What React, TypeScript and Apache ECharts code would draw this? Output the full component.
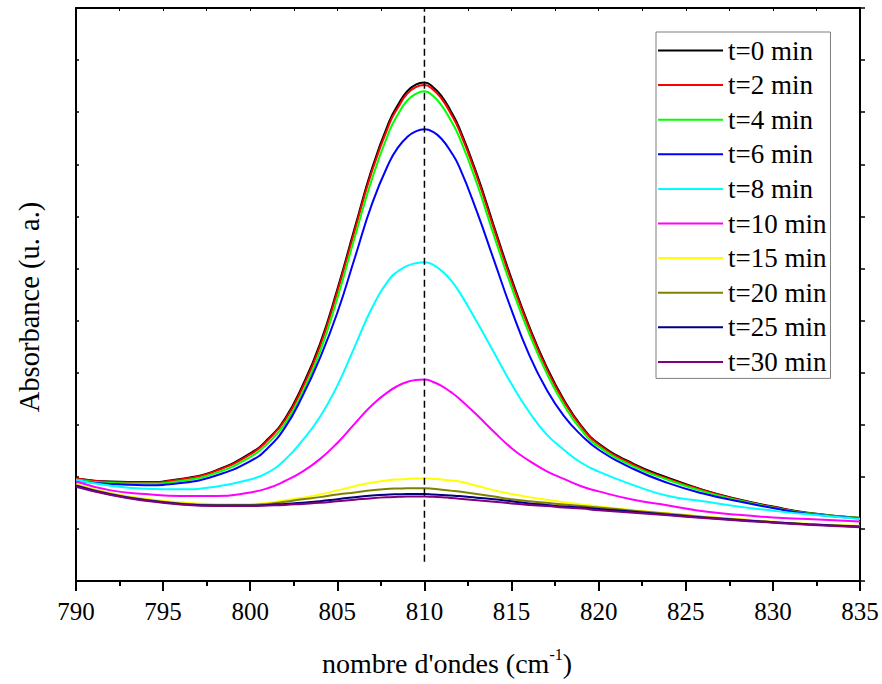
import React, { useEffect, useRef } from "react";
import * as echarts from "echarts";

const wavenumbers = [790, 792, 794, 796, 798, 800, 801, 802, 803, 804, 805, 806, 807, 808, 808.5, 809, 809.5, 810, 810.5, 811, 811.5, 812, 813, 814, 815, 816, 817, 818, 819, 820, 822, 824, 826, 828, 830, 832, 835];

const t0 = [1.97, 1.91, 1.90, 1.96, 2.12, 2.45, 2.72, 3.12, 3.75, 4.55, 5.60, 6.78, 7.93, 8.84, 9.15, 9.40, 9.53, 9.57, 9.48, 9.30, 9.03, 8.70, 7.82, 6.80, 5.80, 4.90, 4.12, 3.48, 2.98, 2.64, 2.25, 1.98, 1.75, 1.57, 1.43, 1.31, 1.21];
const t2 = [1.97, 1.90, 1.89, 1.95, 2.11, 2.43, 2.70, 3.09, 3.71, 4.50, 5.55, 6.73, 7.88, 8.79, 9.10, 9.35, 9.48, 9.52, 9.43, 9.25, 8.98, 8.65, 7.77, 6.75, 5.75, 4.86, 4.08, 3.45, 2.96, 2.62, 2.23, 1.96, 1.74, 1.56, 1.42, 1.30, 1.21];
const t4 = [1.95, 1.88, 1.87, 1.92, 2.07, 2.38, 2.64, 3.02, 3.62, 4.40, 5.43, 6.60, 7.73, 8.65, 8.97, 9.22, 9.35, 9.40, 9.31, 9.12, 8.85, 8.52, 7.64, 6.62, 5.64, 4.76, 4.00, 3.38, 2.90, 2.58, 2.20, 1.94, 1.72, 1.55, 1.41, 1.30, 1.21];
const t6 = [1.93, 1.86, 1.84, 1.88, 2.02, 2.30, 2.55, 2.95, 3.55, 4.28, 5.15, 6.20, 7.25, 8.05, 8.33, 8.52, 8.63, 8.67, 8.62, 8.48, 8.25, 7.95, 7.10, 6.15, 5.20, 4.35, 3.68, 3.17, 2.80, 2.52, 2.15, 1.88, 1.68, 1.53, 1.40, 1.29, 1.20];
const t8 = [1.94, 1.83, 1.77, 1.76, 1.81, 1.95, 2.08, 2.33, 2.70, 3.15, 3.75, 4.50, 5.25, 5.80, 5.95, 6.05, 6.10, 6.12, 6.07, 5.95, 5.78, 5.55, 4.98, 4.38, 3.78, 3.25, 2.82, 2.52, 2.27, 2.10, 1.84, 1.63, 1.53, 1.43, 1.35, 1.28, 1.19];
const t10 = [1.91, 1.74, 1.67, 1.63, 1.63, 1.70, 1.78, 1.92, 2.10, 2.34, 2.65, 3.02, 3.38, 3.65, 3.75, 3.82, 3.86, 3.87, 3.82, 3.74, 3.63, 3.50, 3.19, 2.86, 2.55, 2.31, 2.11, 1.96, 1.82, 1.72, 1.56, 1.45, 1.34, 1.27, 1.22, 1.19, 1.14];
const t15 = [1.86, 1.69, 1.58, 1.51, 1.48, 1.48, 1.50, 1.55, 1.60, 1.66, 1.74, 1.82, 1.89, 1.94, 1.95, 1.96, 1.97, 1.97, 1.96, 1.95, 1.93, 1.91, 1.83, 1.74, 1.67, 1.61, 1.56, 1.51, 1.47, 1.43, 1.36, 1.30, 1.24, 1.19, 1.14, 1.10, 1.06];
const t20 = [1.84, 1.67, 1.56, 1.49, 1.46, 1.46, 1.48, 1.52, 1.57, 1.61, 1.66, 1.70, 1.74, 1.77, 1.775, 1.78, 1.78, 1.78, 1.77, 1.75, 1.735, 1.72, 1.67, 1.62, 1.57, 1.53, 1.50, 1.47, 1.44, 1.41, 1.35, 1.29, 1.23, 1.18, 1.13, 1.09, 1.05];
const t25 = [1.83, 1.66, 1.55, 1.48, 1.45, 1.45, 1.46, 1.48, 1.50, 1.53, 1.57, 1.61, 1.64, 1.66, 1.665, 1.67, 1.67, 1.67, 1.66, 1.65, 1.64, 1.63, 1.60, 1.57, 1.53, 1.49, 1.46, 1.43, 1.41, 1.38, 1.33, 1.27, 1.22, 1.17, 1.13, 1.09, 1.04];
const t30 = [1.81, 1.65, 1.54, 1.47, 1.44, 1.44, 1.45, 1.46, 1.48, 1.50, 1.53, 1.56, 1.59, 1.61, 1.615, 1.62, 1.62, 1.62, 1.615, 1.61, 1.595, 1.58, 1.55, 1.52, 1.49, 1.46, 1.44, 1.41, 1.39, 1.36, 1.31, 1.26, 1.21, 1.16, 1.12, 1.08, 1.03];

const seriesNames = ["t=0 min", "t=2 min", "t=4 min", "t=6 min", "t=8 min", "t=10 min", "t=15 min", "t=20 min", "t=25 min", "t=30 min"];
const seriesValues = [t0, t2, t4, t6, t8, t10, t15, t20, t25, t30];
const seriesColors = ["#000000", "#ff0000", "#00ff00", "#0000ff", "#00ffff", "#ff00ff", "#ffff00", "#808000", "#000080", "#800080"];

const peakPosition = 810;
const refLineRange = [0.37, 11];

const xTicks = [790, 795, 800, 805, 810, 815, 820, 825, 830, 835];

const FONT = "Liberation Serif";

export default function App() {
  const ref = useRef<HTMLDivElement>(null);

  useEffect(() => {
    if (!ref.current) return;
    const chart = echarts.init(ref.current, null, { renderer: "svg" });

    const curveSeries = seriesNames.map((name, k) => ({
      name,
      type: "line",
      xAxisIndex: 0,
      yAxisIndex: 0,
      data: wavenumbers.map((x, i) => [x, seriesValues[k][i]]),
      smooth: 0.5,
      symbol: "none",
      showSymbol: false,
      lineStyle: { color: seriesColors[k], width: 2 },
      itemStyle: { color: seriesColors[k] },
      z: 3,
    }));

    const option: any = {
      animation: false,
      grid: { left: 76, right: 22, top: 8, bottom: 103 },
      xAxis: [
        {
          type: "value",
          position: "bottom",
          min: xTicks[0],
          max: xTicks[xTicks.length - 1],
          interval: 5,
          axisLine: { show: true, onZero: false, lineStyle: { color: "#000", width: 2 } },
          axisTick: { show: true, inside: false, length: 10, lineStyle: { color: "#000", width: 2 } },
          minorTick: { show: true, splitNumber: 2, length: 5, lineStyle: { color: "#000", width: 2 } },
          axisLabel: { show: true, color: "#000", fontFamily: FONT, fontSize: 25, margin: 18 },
          splitLine: { show: false },
        },
        {
          type: "value",
          position: "top",
          min: xTicks[0],
          max: xTicks[xTicks.length - 1],
          interval: 2.5,
          axisLine: { show: true, onZero: false, lineStyle: { color: "#000", width: 2 } },
          axisTick: { show: true, inside: true, length: 3, lineStyle: { color: "#000", width: 1 } },
          axisLabel: { show: false },
          splitLine: { show: false },
        },
      ],
      yAxis: [
        {
          type: "value",
          position: "left",
          min: 0,
          max: 11,
          interval: 1,
          axisLine: { show: true, onZero: false, lineStyle: { color: "#000", width: 2 } },
          axisTick: { show: true, inside: true, length: 3, lineStyle: { color: "#000", width: 1.5 } },
          axisLabel: { show: false },
          splitLine: { show: false },
        },
        {
          type: "value",
          position: "right",
          min: 0,
          max: 11,
          interval: 1,
          axisLine: { show: true, onZero: false, lineStyle: { color: "#000", width: 2 } },
          axisTick: { show: true, inside: false, length: 5, lineStyle: { color: "#000", width: 1.5 } },
          axisLabel: { show: false },
          splitLine: { show: false },
        },
      ],
      legend: {
        data: seriesNames,
        orient: "vertical",
        left: 656,
        top: 32,
        icon: "rect",
        itemWidth: 65,
        itemHeight: 2,
        itemGap: 7.6,
        padding: [5, 4, 3, 2],
        borderColor: "#7f7f7f",
        borderWidth: 1,
        selectedMode: false,
        textStyle: { color: "#000", fontFamily: FONT, fontSize: 27 },
      },
      series: [
        ...curveSeries,
        {
          name: "ref",
          type: "line",
          xAxisIndex: 0,
          yAxisIndex: 0,
          data: refLineRange.map((y) => [peakPosition, y]),
          symbol: "none",
          showSymbol: false,
          silent: true,
          lineStyle: { color: "#000", width: 1.5, type: [7, 4] },
          z: 4,
        },
      ],
      graphic: [
        {
          type: "text",
          x: 29,
          y: 307,
          rotation: Math.PI / 2,
          style: {
            text: "Absorbance (u. a.)",
            fontFamily: FONT,
            fontSize: 28.5,
            fill: "#000",
            align: "center",
            verticalAlign: "middle",
          },
        },
        {
          type: "text",
          x: 447,
          y: 663,
          style: {
            text: "{a|nombre d'ondes (cm}{b|-1}{a|)}",
            fontFamily: FONT,
            fontSize: 28,
            fill: "#000",
            align: "center",
            verticalAlign: "middle",
            rich: {
              a: { fontFamily: FONT, fontSize: 28, lineHeight: 34, fill: "#000" },
              b: { fontFamily: FONT, fontSize: 16, lineHeight: 19, verticalAlign: "top", fill: "#000" },
            },
          },
        },
      ],
    };

    chart.setOption(option);
    return () => chart.dispose();
  }, []);

  return <div ref={ref} style={{ position: "absolute", left: 0, top: 0, width: 882, height: 684 }} />;
}
